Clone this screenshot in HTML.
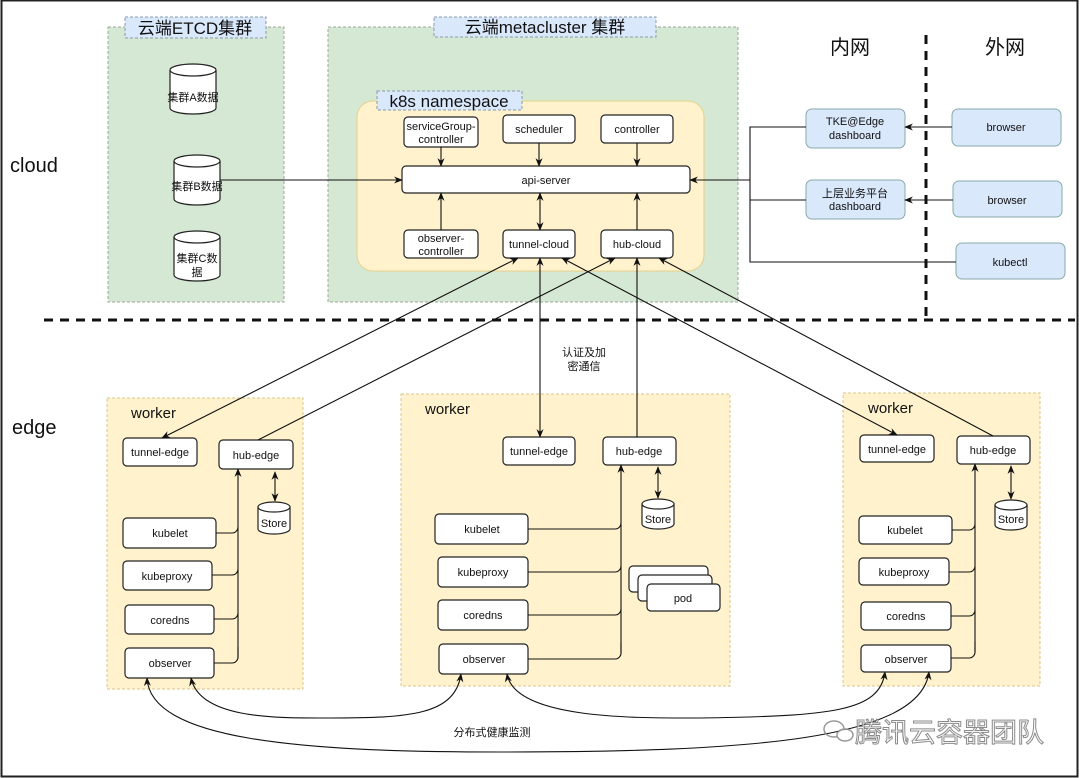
<!DOCTYPE html>
<html><head><meta charset="utf-8"><style>
html,body{margin:0;padding:0;background:#fff}
svg{display:block}
text{font-family:"Liberation Sans","Noto Sans CJK SC",sans-serif;fill:#111}
.b{fill:#fff;stroke:#222;stroke-width:1.2}
.l{stroke:#111;stroke-width:1.1;fill:none}
.t{font-size:11px;text-anchor:middle}
</style></head><body>
<svg width="1080" height="778" viewBox="0 0 1080 778" xmlns="http://www.w3.org/2000/svg">
<defs>
<marker id="a" viewBox="0 0 10 10" refX="9" refY="5" markerWidth="8" markerHeight="8" orient="auto-start-reverse"><path d="M0,1 L10,5 L0,9 L3,5z" fill="#111"/></marker>
</defs>
<rect x="1.5" y="0.5" width="1076" height="776" fill="#fff" stroke="#222" stroke-width="2"/>

<rect x="108" y="27" width="176" height="275" fill="#d5e8d4" stroke="#9a9" stroke-dasharray="3,2"/>
<rect x="125" y="17" width="141" height="21" fill="#dae8fc" stroke="#89a" stroke-dasharray="3,2"/>
<text x="195" y="34" font-size="17" text-anchor="middle">云端ETCD集群</text>
<rect x="328" y="27" width="410" height="275" fill="#d5e8d4" stroke="#9a9" stroke-dasharray="3,2"/>
<rect x="434" y="17" width="222" height="20" fill="#dae8fc" stroke="#89a" stroke-dasharray="3,2"/>
<text x="545" y="33" font-size="17" text-anchor="middle">云端metacluster 集群</text>
<rect x="357" y="101" width="347" height="170" rx="16" fill="#fff2cc" stroke="#e6d08a"/>
<rect x="377" y="91" width="145" height="19" fill="#dae8fc" stroke="#89a" stroke-dasharray="3,2"/>
<text x="449" y="107" font-size="17" text-anchor="middle">k8s namespace</text>

<g class="b">
<path d="M170,70 v38 a23,6 0 0 0 46,0 v-38"/><ellipse cx="193" cy="70" rx="23" ry="6"/>
<path d="M174,161 v38 a23,6 0 0 0 46,0 v-38"/><ellipse cx="197" cy="161" rx="23" ry="6"/>
<path d="M174,237 v38 a23,6 0 0 0 46,0 v-38"/><ellipse cx="197" cy="237" rx="23" ry="6"/>
</g>
<text class="t" x="193" y="101">集群A数据</text>
<text class="t" x="197" y="190">集群B数据</text>
<text class="t" x="197" y="262">集群C数</text><text class="t" x="197" y="276">据</text>

<g class="b">
<rect x="404" y="117" width="74" height="30" rx="4"/>
<rect x="503" y="115" width="72" height="28" rx="4"/>
<rect x="601" y="115" width="72" height="28" rx="4"/>
<rect x="402" y="166" width="288" height="27" rx="4"/>
<rect x="404" y="230" width="74" height="28" rx="4"/>
<rect x="503" y="230" width="72" height="28" rx="4"/>
<rect x="601" y="230" width="72" height="28" rx="4"/>
</g>
<text class="t" x="441" y="130">serviceGroup-</text><text class="t" x="441" y="143">controller</text>
<text class="t" x="539" y="133">scheduler</text>
<text class="t" x="637" y="133">controller</text>
<text class="t" x="546" y="184">api-server</text>
<text class="t" x="441" y="242">observer-</text><text class="t" x="441" y="255">controller</text>
<text class="t" x="539" y="248">tunnel-cloud</text>
<text class="t" x="637" y="248">hub-cloud</text>
<g class="l">
<line x1="441" y1="147" x2="441" y2="166" marker-end="url(#a)"/>
<line x1="539" y1="143" x2="539" y2="166" marker-end="url(#a)"/>
<line x1="637" y1="143" x2="637" y2="166" marker-end="url(#a)"/>
<line x1="441" y1="230" x2="441" y2="193" marker-end="url(#a)"/>
<line x1="540" y1="230" x2="540" y2="193" marker-end="url(#a)" marker-start="url(#a)"/>
<line x1="637" y1="230" x2="637" y2="193" marker-end="url(#a)"/>
<line x1="220" y1="180" x2="402" y2="180" marker-end="url(#a)"/>
</g>

<g fill="#dae8fc" stroke="#8aa">
<rect x="806" y="109" width="99" height="39" rx="6"/>
<rect x="806" y="180" width="99" height="39" rx="6"/>
<rect x="952" y="109" width="109" height="37" rx="6"/>
<rect x="953" y="181" width="109" height="36" rx="6"/>
<rect x="956" y="243" width="109" height="36" rx="6"/>
</g>
<text class="t" x="855" y="125">TKE@Edge</text><text class="t" x="855" y="139">dashboard</text>
<text class="t" x="855" y="197">上层业务平台</text><text class="t" x="855" y="210">dashboard</text>
<text class="t" x="1006" y="131">browser</text>
<text class="t" x="1007" y="204">browser</text>
<text class="t" x="1010" y="266">kubectl</text>
<g class="l">
<line x1="952" y1="127" x2="905" y2="127" marker-end="url(#a)"/>
<line x1="953" y1="200" x2="905" y2="200" marker-end="url(#a)"/>
<polyline points="806,127 750,127 750,262 956,262"/>
<line x1="806" y1="200" x2="750" y2="200"/>
<line x1="750" y1="180" x2="690" y2="180" marker-end="url(#a)"/>
</g>
<text x="850" y="54" font-size="20" text-anchor="middle">内网</text>
<text x="1005" y="54" font-size="20" text-anchor="middle">外网</text>
<g stroke="#111" stroke-width="3" stroke-dasharray="9,7" fill="none">
<line x1="926" y1="35" x2="926" y2="320"/>
<line x1="44" y1="320" x2="1075" y2="320"/>
</g>
<text x="10" y="172" font-size="20">cloud</text>
<text x="12" y="434" font-size="20">edge</text>

<g fill="#fff2cc" stroke="#d9c58a" stroke-dasharray="3,2">
<rect x="107" y="398" width="196" height="291"/>
<rect x="401" y="394" width="329" height="292"/>
<rect x="843" y="393" width="197" height="293"/>
</g>
<text x="131" y="418" font-size="15">worker</text>
<text x="425" y="414" font-size="15">worker</text>
<text x="868" y="413" font-size="15">worker</text>

<g class="b">
<rect x="123" y="438" width="74" height="28" rx="4"/><rect x="219" y="440" width="74" height="29" rx="4"/>
<rect x="123" y="518" width="93" height="30" rx="4"/><rect x="123" y="561" width="89" height="29" rx="4"/>
<rect x="125" y="605" width="89" height="29" rx="4"/><rect x="125" y="648" width="89" height="30" rx="4"/>
<rect x="503" y="437" width="72" height="28" rx="4"/><rect x="603" y="437" width="73" height="28" rx="4"/>
<rect x="435" y="514" width="93" height="30" rx="4"/><rect x="438" y="557" width="90" height="30" rx="4"/>
<rect x="438" y="600" width="90" height="30" rx="4"/><rect x="439" y="644" width="89" height="30" rx="4"/>
<rect x="629" y="566" width="79" height="26" rx="4"/><rect x="638" y="575" width="74" height="26" rx="4"/><rect x="647" y="584" width="73" height="27" rx="4"/>
<rect x="860" y="435" width="74" height="27" rx="4"/><rect x="957" y="436" width="73" height="28" rx="4"/>
<rect x="859" y="516" width="93" height="28" rx="4"/><rect x="859" y="558" width="90" height="27" rx="4"/>
<rect x="861" y="602" width="90" height="28" rx="4"/><rect x="861" y="645" width="90" height="27" rx="4"/>
<path d="M258,507 v22 a16,5 0 0 0 32,0 v-22"/><ellipse cx="274" cy="507" rx="16" ry="5"/>
<path d="M642,504 v20 a16,5 0 0 0 32,0 v-20"/><ellipse cx="658" cy="504" rx="16" ry="5"/>
<path d="M995,505 v20 a16,5 0 0 0 32,0 v-20"/><ellipse cx="1011" cy="505" rx="16" ry="5"/>
</g>
<text class="t" x="160" y="456">tunnel-edge</text><text class="t" x="256" y="459">hub-edge</text>
<text class="t" x="170" y="537">kubelet</text><text class="t" x="167" y="580">kubeproxy</text>
<text class="t" x="170" y="624">coredns</text><text class="t" x="170" y="667">observer</text>
<text class="t" x="274" y="527">Store</text>
<text class="t" x="539" y="455">tunnel-edge</text><text class="t" x="639" y="455">hub-edge</text>
<text class="t" x="482" y="533">kubelet</text><text class="t" x="483" y="576">kubeproxy</text>
<text class="t" x="483" y="619">coredns</text><text class="t" x="484" y="663">observer</text>
<text class="t" x="683" y="602">pod</text>
<text class="t" x="658" y="523">Store</text>
<text class="t" x="897" y="453">tunnel-edge</text><text class="t" x="993" y="454">hub-edge</text>
<text class="t" x="905" y="534">kubelet</text><text class="t" x="904" y="576">kubeproxy</text>
<text class="t" x="906" y="620">coredns</text><text class="t" x="906" y="663">observer</text>
<text class="t" x="1011" y="523">Store</text>
<g class="l">
<line x1="238" y1="658" x2="238" y2="469" marker-end="url(#a)"/>
<path d="M216,533 h16 a6,6 0 0 0 6,-6 M212,575 h20 a6,6 0 0 0 6,-6 M214,619 h18 a6,6 0 0 0 6,-6 M214,663 h18 a6,6 0 0 0 6,-6 v-10"/>
<line x1="275" y1="472" x2="275" y2="501" marker-end="url(#a)" marker-start="url(#a)"/>
<line x1="621" y1="653" x2="621" y2="465" marker-end="url(#a)"/>
<path d="M528,529 h87 a6,6 0 0 0 6,-6 M528,572 h87 a6,6 0 0 0 6,-6 M528,615 h87 a6,6 0 0 0 6,-6 M528,659 h87 a6,6 0 0 0 6,-6 v-10"/>
<line x1="658" y1="467" x2="658" y2="498" marker-end="url(#a)" marker-start="url(#a)"/>
<line x1="975" y1="652" x2="975" y2="464" marker-end="url(#a)"/>
<path d="M952,530 h17 a6,6 0 0 0 6,-6 M949,572 h20 a6,6 0 0 0 6,-6 M951,616 h18 a6,6 0 0 0 6,-6 M951,658 h18 a6,6 0 0 0 6,-6 v-10"/>
<line x1="1011" y1="466" x2="1011" y2="499" marker-end="url(#a)" marker-start="url(#a)"/>
<line x1="518" y1="258" x2="162" y2="438" marker-end="url(#a)" marker-start="url(#a)"/>
<line x1="258" y1="440" x2="615" y2="258" marker-end="url(#a)"/>
<line x1="540" y1="258" x2="540" y2="437" marker-end="url(#a)" marker-start="url(#a)"/>
<line x1="637" y1="437" x2="637" y2="258" marker-end="url(#a)"/>
<line x1="562" y1="258" x2="897" y2="435" marker-end="url(#a)" marker-start="url(#a)"/>
<line x1="993" y1="436" x2="659" y2="258" marker-end="url(#a)"/>
<path d="M191,678 C200,720 280,718 330,718 C410,718 455,715 461,674" marker-end="url(#a)" marker-start="url(#a)"/>
<path d="M507,674 C515,720 640,718 700,718 C830,716 880,712 885,672" marker-end="url(#a)" marker-start="url(#a)"/>
<path d="M147,678 C150,740 300,752 500,752 C750,752 920,740 929,672" marker-end="url(#a)" marker-start="url(#a)"/>
</g>
<text class="t" x="584" y="356">认证及加</text><text class="t" x="584" y="370">密通信</text>
<text class="t" x="492" y="736">分布式健康监测</text>
<g opacity="0.85">
<ellipse cx="834" cy="729" rx="10" ry="8" fill="none" stroke="#888" stroke-width="1.5"/>
<ellipse cx="845" cy="735" rx="8" ry="6" fill="#fff" stroke="#888" stroke-width="1.5"/>
<text x="855" y="742" font-size="27" style="fill:#fff;stroke:#777;stroke-width:1">腾讯云容器团队</text>
</g>
</svg>
</body></html>
